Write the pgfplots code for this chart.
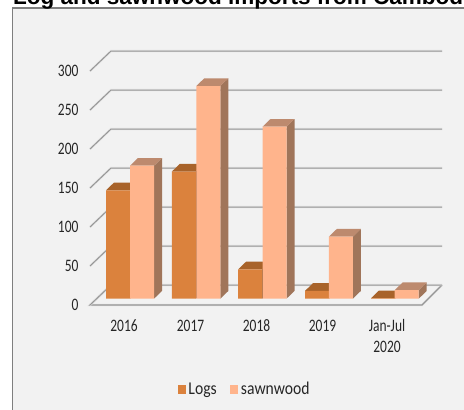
\documentclass[border=0pt]{standalone}
\usepackage{pgfplots}
\pgfplotsset{compat=1.18}
\usepackage{fontspec}
\setmainfont{Carlito}
\newfontfamily\titlefont{Liberation Sans}
\newfontfamily\tickfont[FakeStretch=0.77]{Carlito}
\newfontfamily\legendfont[FakeStretch=0.87]{Carlito}
\definecolor{panel}{HTML}{F2F2F2}
\definecolor{frameline}{HTML}{7F7F7F}
\definecolor{gridline}{HTML}{969696}
\definecolor{gridhalo}{HTML}{E2E2E2}
\definecolor{logfront}{HTML}{DB823D}
\definecolor{logtop}{HTML}{A8632A}
\definecolor{logside}{HTML}{8F5A30}
\definecolor{sawfront}{HTML}{FFB48C}
\definecolor{sawtop}{HTML}{BD8A6E}
\definecolor{sawside}{HTML}{A0755A}
\definecolor{labeltext}{HTML}{262626}

% Depth of the 3D extrusion, in axis units
\newcommand{\depthx}{8}
\newcommand{\depthy}{9.9}
% Top and side faces of a bar: centre x, value, colours of top and side
\newcommand{\barfaces}[4]{%
  \pgfmathsetmacro{\xa}{#1-12}%
  \pgfmathsetmacro{\xb}{#1+12}%
  \pgfmathsetmacro{\xc}{#1-12+\depthx}%
  \pgfmathsetmacro{\xd}{#1+12+\depthx}%
  \pgfmathsetmacro{\yt}{#2+\depthy}%
  \edef\facecmds{%
    \noexpand\addplot[fill=#4,draw=none,forget plot] coordinates
      {(\xb,0) (\xd,\depthy) (\xd,\yt) (\xb,#2)} --cycle;%
    \noexpand\addplot[fill=#3,draw=none,forget plot] coordinates
      {(\xa,#2) (\xb,#2) (\xd,\yt) (\xc,\yt)} --cycle;%
  }%
  \facecmds
}
% One gridline: the slanted part on the side wall and the run along the back wall
\newcommand{\gridrun}[2]{%
  \addplot[gridhalo,line width=2.2pt,forget plot] coordinates {(90,#1) (111,#2) (442,#2)};
  \addplot[gridline,line width=1pt,forget plot] coordinates {(90,#1) (111,#2) (442,#2)};
}
% Fixed first-line height so that all category labels share a baseline
\newcommand{\lineone}{\rule{0pt}{12pt}}

\begin{document}
\begin{tikzpicture}
\useasboundingbox (0pt,0pt) rectangle (464pt,-410pt);
\clip (0pt,0pt) rectangle (464pt,-410pt);
\fill[white] (0pt,0pt) rectangle (464pt,-410pt);
\fill[panel] (12.5pt,-8pt) rectangle (464pt,-410pt);
\draw[frameline,line width=1.4pt] (12.5pt,-410pt) -- (12.5pt,-8pt) -- (464pt,-8pt);
\node[anchor=base west,inner sep=0pt,font=\titlefont\bfseries\fontsize{22.5}{24}\selectfont]
  at (13pt,-4.5pt) {Log and sawnwood imports from Cambodia};
\begin{axis}[
  at={(90pt,-305pt)},anchor=south west,
  scale only axis,width=352pt,height=254pt,
  xmin=90,xmax=442,ymin=-8.08,ymax=317.6,
  clip=false,
  axis line style={draw=none},
  tick style={draw=none},
  xtick={124,190.5,256.5,322.5,387},
  xticklabels={\lineone 2016,\lineone 2017,\lineone 2018,\lineone 2019,{\lineone Jan-Jul\\2020}},
  xticklabel style={align=center,text=labeltext,font=\tickfont\fontsize{17.5}{21}\selectfont,
    anchor=north,yshift=-11pt},
  ytick={-8.08,41.92,91.92,141.92,191.92,241.92,291.92},
  yticklabels={0,50,100,150,200,250,300},
  yticklabel style={text=labeltext,font=\tickfont\fontsize{17.5}{19}\selectfont,xshift=-8pt},
  /pgf/number format/assume math mode=true,
  legend style={at={(0.249,-0.331)},anchor=west,draw=none,fill=none,
    legend columns=2,font=\legendfont\fontsize{18}{20}\selectfont,text=labeltext,
    /tikz/every even column/.append style={column sep=11pt},
    inner sep=0pt,nodes={inner xsep=2.6pt,inner ysep=1.5pt}},
  legend image code/.code={\fill[#1] (0pt,-4.5pt) rectangle (8pt,4.5pt);},
]
% Floor, walls and gridlines
\addplot[gridhalo,line width=2.2pt,forget plot] coordinates {(111,17.56) (90,-8.08) (422,-8.08) (442,17.56)};
\addplot[gridline,line width=1.1pt,forget plot] coordinates {(111,17.56) (90,-8.08) (422,-8.08) (442,17.56)};
\gridrun{-8.08}{17.56}
\gridrun{41.92}{67.56}
\gridrun{91.92}{117.56}
\gridrun{141.92}{167.56}
\gridrun{191.92}{217.56}
\gridrun{241.92}{267.56}
\gridrun{291.92}{317.56}
% Receding faces, logs then sawnwood
\barfaces{118}{139}{logtop}{logside}
\barfaces{142}{170.5}{sawtop}{sawside}
\barfaces{183.85}{163}{logtop}{logside}
\barfaces{208.3}{272.7}{sawtop}{sawside}
\barfaces{250.2}{37.7}{logtop}{logside}
\barfaces{274.5}{220.5}{sawtop}{sawside}
\barfaces{317}{10}{logtop}{logside}
\barfaces{340.8}{79.5}{sawtop}{sawside}
\barfaces{383}{0.6}{logtop}{logside}
\barfaces{406.7}{11}{sawtop}{sawside}
% Front faces
\addplot[ybar,bar width=24,bar shift=0pt,fill=logfront,draw=none]
  coordinates {(118,139) (183.85,163) (250.2,37.7) (317,10) (383,0.6)};
\addlegendentry{Logs}
\addplot[ybar,bar width=24,bar shift=0pt,fill=sawfront,draw=none]
  coordinates {(142,170.5) (208.3,272.7) (274.5,220.5) (340.8,79.5) (406.7,11)};
\addlegendentry{sawnwood}
\end{axis}
\end{tikzpicture}
\end{document}
